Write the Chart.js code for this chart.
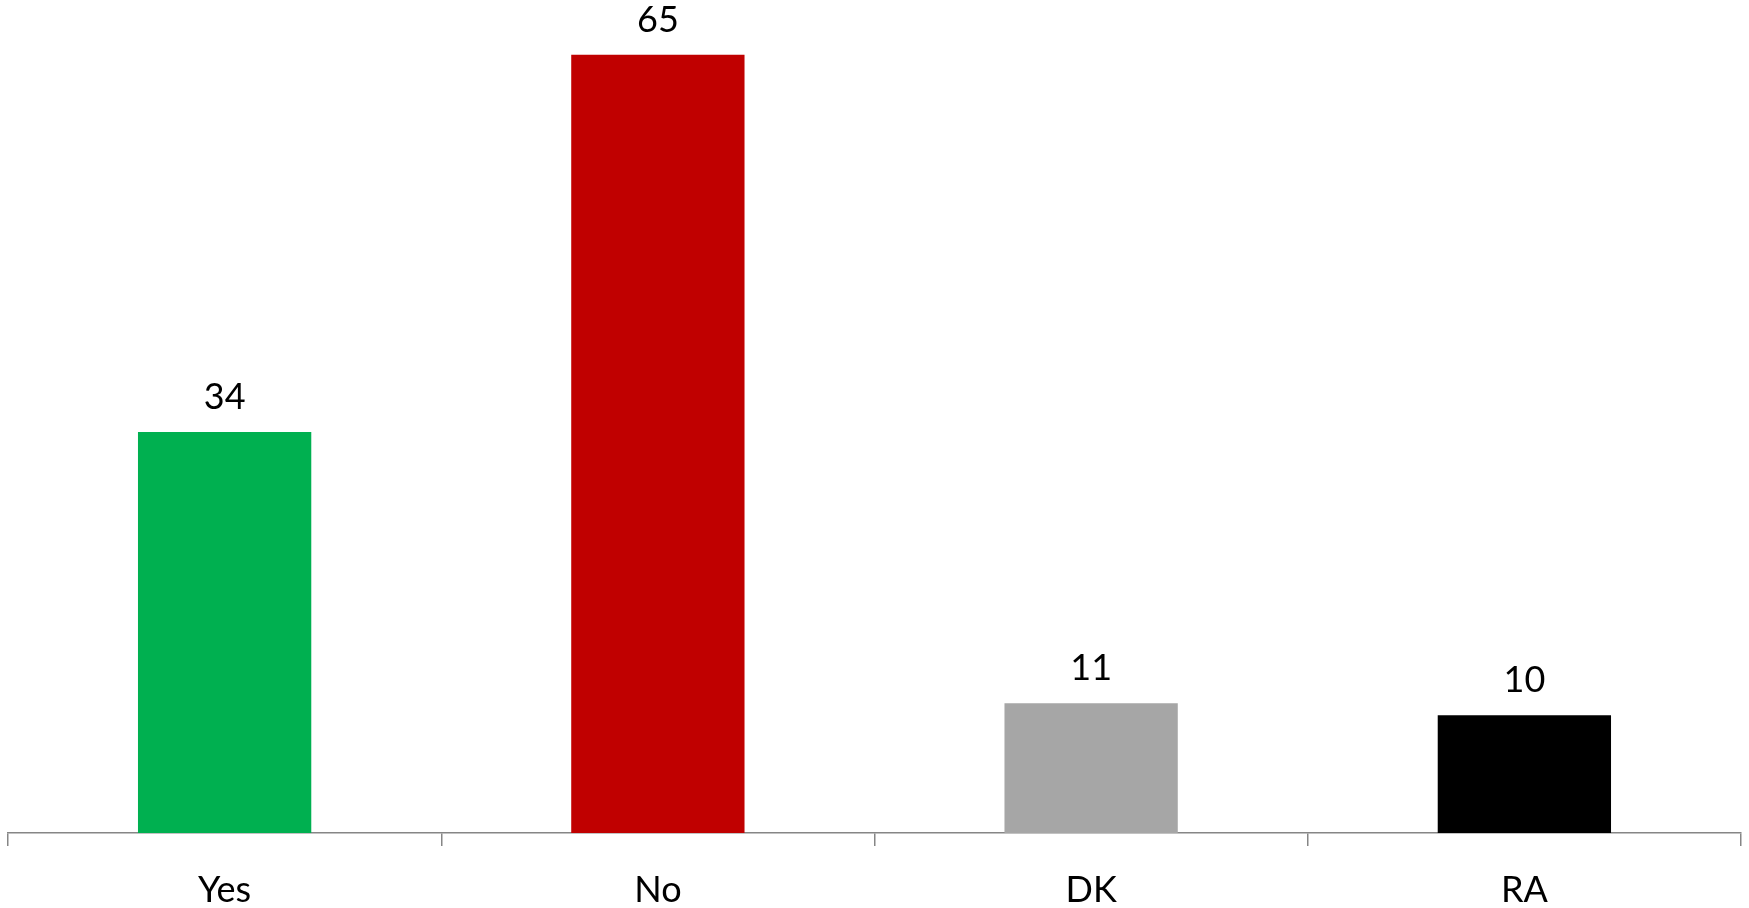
<!DOCTYPE html>
<html>
<head>
<meta charset="utf-8">
<script src="https://cdn.jsdelivr.net/npm/chart.js@4/dist/chart.umd.min.js"></script>
<style>
  html, body { margin: 0; padding: 0; background: #ffffff; }
  #wrap { width: 1749px; height: 908px; }
</style>
</head>
<body>
<div id="wrap"><canvas id="c" width="1749" height="908"></canvas></div>
<script>
const categories = ["Yes", "No", "DK", "RA"];
const values = [33.7, 65.4, 10.9, 9.9];
const valueLabels = ["34", "65", "11", "10"];
const barColors = ["#00B050", "#C00000", "#A6A6A6", "#000000"];

const FONT = "Lato, 'Liberation Sans', sans-serif";

const valueLabelPlugin = {
  id: "valueLabels",
  afterDatasetsDraw(chart) {
    const ctx = chart.ctx;
    const meta = chart.getDatasetMeta(0);
    ctx.save();
    ctx.fillStyle = "#000000";
    ctx.font = "36px " + FONT;
    ctx.textAlign = "center";
    ctx.textBaseline = "alphabetic";
    meta.data.forEach((el, i) => {
      ctx.fillText(valueLabels[i], el.x, el.y - 23);
    });
    ctx.restore();
  }
};

new Chart(document.getElementById("c"), {
  type: "bar",
  data: {
    labels: categories,
    datasets: [{
      data: values,
      backgroundColor: barColors,
      borderWidth: 0,
      categoryPercentage: 0.4,
      barPercentage: 1.0
    }]
  },
  options: {
    responsive: false,
    animation: false,
    devicePixelRatio: 1,
    layout: { padding: { left: 8, right: 8, top: 0, bottom: 0 } },
    plugins: { legend: { display: false }, tooltip: { enabled: false } },
    scales: {
      x: {
        afterFit(scale) { scale.height = 75; },
        grid: { drawOnChartArea: false, drawTicks: true, tickLength: 13, color: "#868686", lineWidth: 1.5, offset: true },
        border: { display: true, color: "#868686", width: 1.5 },
        ticks: { color: "#000000", font: { family: FONT, size: 36 }, padding: 23 }
      },
      y: {
        display: false,
        min: 0,
        max: 70
      }
    }
  },
  plugins: [valueLabelPlugin]
});
</script>
</body>
</html>
